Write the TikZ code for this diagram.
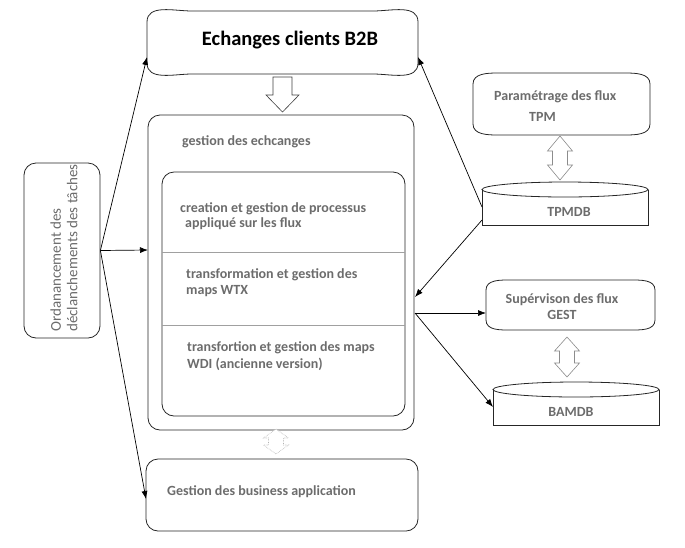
\documentclass[tikz,border=0pt]{standalone}
\usepackage{fontspec}
\setmainfont{Carlito}
\usetikzlibrary{arrows.meta}

\definecolor{txtgray}{RGB}{108,108,108}
\definecolor{linegray}{RGB}{160,160,160}

\tikzset{
    boxline/.style={draw=black!85, line width=0.8pt},
    roundbox/.style={boxline, rounded corners=12pt, inner sep=0pt},
    frame/.style={inner sep=0pt, outer sep=0pt},
    greytext/.style={text=txtgray, font=\bfseries\fontsize{14}{16}\selectfont, inner sep=0pt},
    flowarrow/.style={draw=black, line width=0.7pt, -{Latex[length=8pt,width=6pt]}},
    bigarrow/.style={draw=black!75, line width=0.6pt, fill=white},
    dblarrowline/.style={draw=black!45, line width=0.6pt, fill=white},
    dotarrowline/.style={draw=black!30, line width=0.6pt, densely dotted, fill=white}
}

% frame with straight sides and bowed top and bottom
\newcommand{\bulgeframe}[3]{%
    \draw[boxline] ([yshift=#3]#1.south west) -- ([yshift=-#3]#1.north west)
        to[out=90,in=180] ([xshift=#2]#1.north west) -- ([xshift=-#2]#1.north east)
        to[out=0,in=90] ([yshift=-#3]#1.north east) -- ([yshift=#3]#1.south east)
        to[out=-90,in=0] ([xshift=-#2]#1.south east) -- ([xshift=#2]#1.south west)
        to[out=180,in=-90] cycle;}

% database drum: top ellipse, flat bottom
\newcommand{\dbframe}[3]{%
    \draw[boxline] ([yshift=-#3]#1.north west) -- (#1.south west) -- (#1.south east) -- ([yshift=-#3]#1.north east);
    \draw[boxline] ([yshift=-#3]#1.north) ellipse [x radius=#2, y radius=#3];}

% vertical double block arrow: x, top, bottom, head length, style
\newcommand{\dblarrow}[5]{%
    \draw[#5] (#1,#2) -- (#1+12.5,#2+#4) -- (#1+7.5,#2+#4) -- (#1+7.5,#3-#4) -- (#1+12.5,#3-#4)
        -- (#1,#3) -- (#1-12.5,#3-#4) -- (#1-7.5,#3-#4) -- (#1-7.5,#2+#4) -- (#1-12.5,#2+#4) -- cycle;}

\begin{document}
\begin{tikzpicture}[x=1pt,y=-1pt]
    \useasboundingbox (0,0) rectangle (685,547);

    % echanges B2B
    \node[frame, minimum width=271pt, minimum height=63pt] (b2b) at (282.5,42.5) {};
    \bulgeframe{b2b}{45pt}{11pt}
    \node[inner sep=0pt, font=\bfseries\fontsize{20.5}{22}\selectfont] (b2btxt) at (290,40) {Echanges clients B2B};

    \draw[bigarrow] (273,77) -- (292,77) -- (292,95) -- (299,95) -- (282.5,112) -- (266,95) -- (273,95) -- cycle;

    % gestion des echanges
    \node[roundbox, minimum width=266pt, minimum height=315pt] (gest) at (281,272.5) {};
    \node[greytext, anchor=west] (gesttxt) at (182,142) {gestion des echcanges};
    \node[roundbox, minimum width=243pt, minimum height=244pt] (inner) at (283.5,294) {};
    \draw[linegray, line width=0.7pt] (162,252) -- (405,252);
    \draw[linegray, line width=0.7pt] (162,325) -- (405,325);
    \node[greytext, anchor=west] (proc1) at (180,209) {creation et gestion de processus};
    \node[greytext, anchor=west] (proc2) at (185,224) {appliqué sur les flux};
    \node[greytext, anchor=west] (wtx1) at (186,275) {transformation et gestion des};
    \node[greytext, anchor=west] (wtx2) at (186,291) {maps WTX};
    \node[greytext, anchor=west] (wdi1) at (187,348) {transfortion et gestion des maps};
    \node[greytext, anchor=west] (wdi2) at (187,364) {WDI (ancienne version)};

    % ordonnancement
    \node[roundbox, minimum width=76pt, minimum height=175pt] (ordo) at (62,250.5) {};
    \node[rotate=90, align=left, anchor=west, inner sep=0pt, text=txtgray,
        font=\fontsize{15}{16.5}\selectfont] (ordotxt) at (64,332) {Ordanancement des\\déclanchements des tâches};

    % business application
    \node[roundbox, minimum width=272pt, minimum height=72pt] (busi) at (282,495) {};
    \node[greytext, anchor=west] (busitxt) at (167,492) {Gestion des business application};
    \dblarrow{276}{429}{454}{9}{dotarrowline}

    % TPM
    \node[frame, minimum width=177pt, minimum height=62pt] (tpm) at (561.5,104) {};
    \bulgeframe{tpm}{25pt}{11pt}
    \node[greytext, anchor=west] (tpmtxt1) at (494,97) {Paramétrage des flux};
    \node[greytext, anchor=west] (tpmtxt2) at (529,117) {TPM};
    \dblarrow{560}{136}{180}{15}{dblarrowline}
    \node[frame, minimum width=166pt, minimum height=43pt] (tpmdb) at (565,203.5) {};
    \dbframe{tpmdb}{83pt}{7.5pt}
    \node[greytext] (tpmdbtxt) at (569,212) {TPMDB};

    % supervision
    \node[frame, minimum width=169pt, minimum height=50pt] (superv) at (570.5,305) {};
    \bulgeframe{superv}{25pt}{10pt}
    \node[greytext, align=center, font=\bfseries\fontsize{14}{16}\selectfont] (supervtxt) at (562,307) {Supérvison des flux\\GEST};
    \dblarrow{567}{337}{377}{14}{dblarrowline}
    \node[frame, minimum width=166pt, minimum height=43pt] (bamdb) at (576,403.5) {};
    \dbframe{bamdb}{83pt}{7.5pt}
    \node[greytext] (bamdbtxt) at (571,412) {BAMDB};

    % connectors
    \coordinate (b2bin1) at (147,57);
    \coordinate (b2bin2) at (418,57);
    \coordinate (gestin1) at (148,250);
    \coordinate (gestin2) at (415,297);
    \coordinate (gestout) at (415,313);
    \coordinate (busiin) at (146,499);
    \coordinate (tpmdbout1) at (482,207);
    \coordinate (tpmdbout2) at (482,220);
    \coordinate (supervin) at (486,313);
    \coordinate (bamdbin) at (493,407);
    \draw[flowarrow] (ordo.east) -- (b2bin1);
    \draw[flowarrow] (ordo.east) -- (gestin1);
    \draw[flowarrow] (ordo.east) -- (busiin);
    \draw[flowarrow] (tpmdbout1) -- (b2bin2);
    \draw[flowarrow] (tpmdbout2) -- (gestin2);
    \draw[flowarrow] (gestout) -- (supervin);
    \draw[flowarrow] (gestout) -- (bamdbin);
\end{tikzpicture}
\end{document}
